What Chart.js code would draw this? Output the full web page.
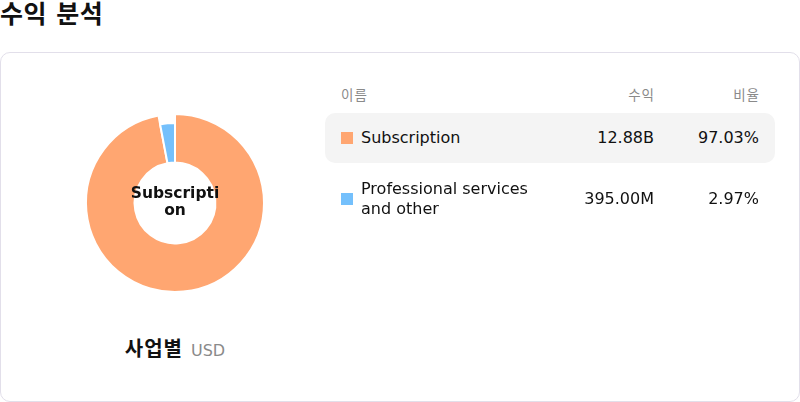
<!DOCTYPE html>
<html>
<head>
<meta charset="utf-8">
<script src="https://cdn.jsdelivr.net/npm/chart.js@4.4.0/dist/chart.umd.min.js"></script>
<style>
  html, body { margin: 0; padding: 0; background: #fff; }
  body { width: 800px; height: 402px; position: relative; overflow: hidden;
         font-family: "DejaVu Sans", "Noto Sans CJK KR", sans-serif; color: #111; }
  .abs { position: absolute; white-space: nowrap; }
  #title { left: 0; top: -1px; font-size: 25px; font-weight: bold; line-height: 32px; letter-spacing: 0.5px; }
  #card { position: absolute; left: 0; top: 52px; width: 798px; height: 348px; border: 1px solid #e2dfea; border-radius: 10px; box-sizing: content-box; }
  #chartBox { position: absolute; left: 75px; top: 103px; width: 200px; height: 200px; }
  #centerText { position: absolute; left: 127px; top: 185px; width: 96px; text-align: center; font-weight: bold; font-size: 15.5px; line-height: 17px; word-break: break-all; white-space: normal; color: #111; }
  #subLabel { position: absolute; left: 0; width: 350px; top: 336px; text-align: center; line-height: 26px; }
  #subLabel .main { font-size: 20px; font-weight: bold; letter-spacing: 1px; }
  #subLabel .unit { font-size: 16px; color: #8a8a8a; margin-left: 8px; }
  .hdr { font-size: 13.5px; color: #8a8a8a; line-height: 16px; top: 87px; letter-spacing: 1px; }
  .rowbg { position: absolute; left: 325px; width: 450px; border-radius: 10px; background: #f4f4f4; }
  .sq { position: absolute; width: 12px; height: 12px; left: 341px; }
  .cell { font-size: 16px; line-height: 20px; }
  .r1 { right: calc(800px - 654px); }
  .r2 { right: calc(800px - 759px); }
  .hdr.r1 { right: calc(800px - 655px); }
  .hdr.r2 { right: calc(800px - 760px); }
</style>
</head>
<body>
<div id="title" class="abs">수익 분석</div>
<div id="card"></div>
<div id="chartBox"><canvas id="c"></canvas></div>
<div id="centerText"></div>
<div id="subLabel"><span class="main">사업별</span><span class="unit">USD</span></div>
<script>
const categories = ["Subscription", "Professional services and other"];
const revenues = [12.88e9, 395.0e6];
const revenueLabels = ["12.88B", "395.00M"];
const shareLabels = ["97.03%", "2.97%"];
const colors = ["#FFA671", "#74C0FC"];
const headers = ["이름", "수익", "비율"];
const activeIndex = 0;

// Table
const body = document.body;
function el(cls, text, style) {
  const d = document.createElement('div');
  d.className = cls;
  if (text !== undefined) d.textContent = text;
  Object.assign(d.style, style || {});
  body.appendChild(d);
  return d;
}
el('abs hdr', headers[0], { left: '341px' });
el('abs hdr r1', headers[1]);
el('abs hdr r2', headers[2]);

const rowTops = [113, 172];
const rowHeights = [50, 54];
categories.forEach((name, i) => {
  const top = rowTops[i], h = rowHeights[i];
  const mid = top + h / 2;
  if (i === activeIndex) el('rowbg', undefined, { top: top + 'px', height: h + 'px' });
  el('sq', undefined, { top: (mid - 6) + 'px', background: colors[i] });
  const nm = el('abs cell', name, { left: '361px', whiteSpace: 'normal', width: '180px' });
  const lines = i === 1 ? 2 : 1;
  nm.style.top = (mid - lines * 10) + 'px';
  el('abs cell r1', revenueLabels[i], { top: (mid - 10) + 'px' });
  el('abs cell r2', shareLabels[i], { top: (mid - 10) + 'px' });
});

document.getElementById('centerText').textContent = categories[activeIndex];

const enlargeActive = {
  id: 'enlargeActive',
  beforeDatasetDraw(chart) {
    const meta = chart.getDatasetMeta(0);
    const arc = meta.data[activeIndex];
    if (arc) arc.outerRadius = meta.controller.outerRadius + 9;
  }
};

new Chart(document.getElementById('c'), {
  type: 'doughnut',
  data: {
    labels: categories,
    datasets: [{
      data: revenues,
      backgroundColor: colors,
      borderColor: '#ffffff',
      borderWidth: 2,
      hoverOffset: 0
    }]
  },
  options: {
    responsive: true,
    maintainAspectRatio: false,
    animation: false,
    radius: 80,
    cutout: 50,
    plugins: { legend: { display: false }, tooltip: { enabled: false } },
    events: []
  },
  plugins: [enlargeActive]
});
</script>
</body>
</html>
